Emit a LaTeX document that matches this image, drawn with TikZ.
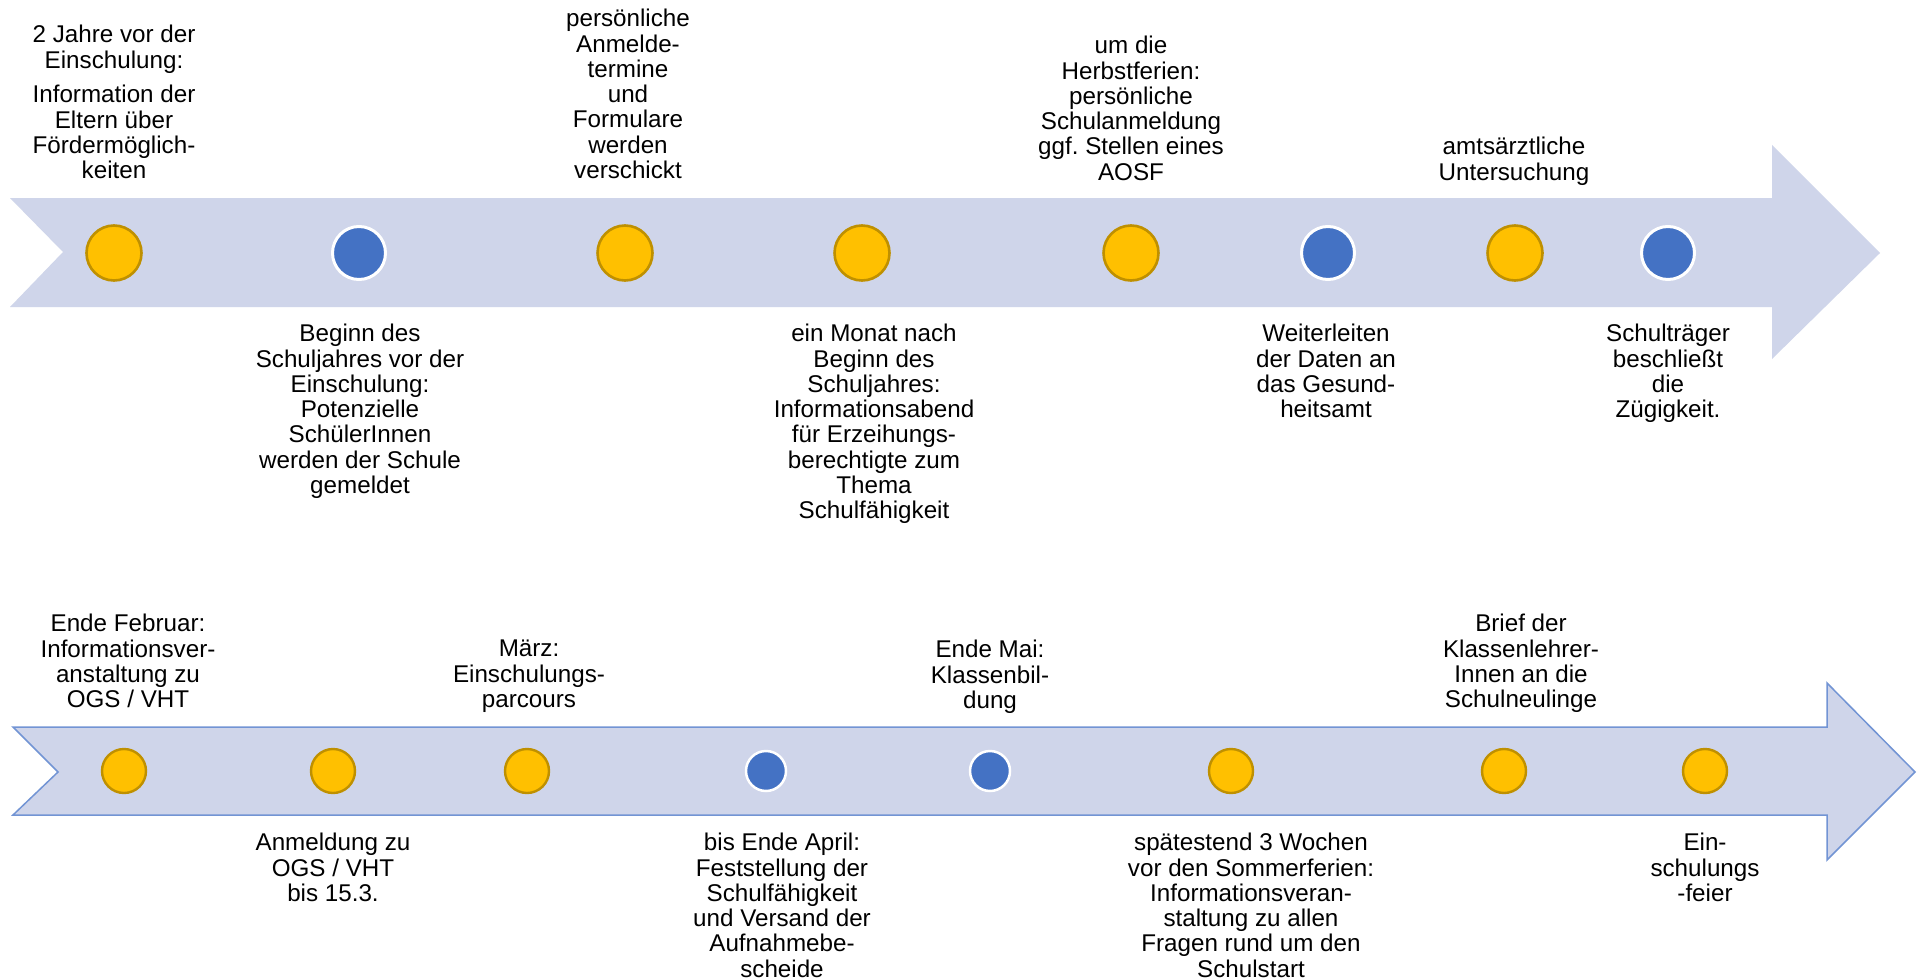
\documentclass[tikz,border=0pt]{standalone}
\usepackage{fontspec}
\setmainfont{Liberation Sans}
\frenchspacing
\definecolor{band}{RGB}{207,213,234}
\definecolor{bandline}{RGB}{114,148,212}
\definecolor{gold}{RGB}{255,192,0}
\definecolor{goldline}{RGB}{191,144,0}
\definecolor{accent}{RGB}{68,114,196}
\begin{document}
\begin{tikzpicture}[x=1pt,y=-1pt,
  yellowbig/.style={circle, inner sep=0pt, minimum size=55pt, fill=gold, draw=goldline, line width=2.6pt},
  bluebig/.style={circle, inner sep=0pt, minimum size=53pt, fill=accent, draw=white, line width=3pt},
  yellowsmall/.style={circle, inner sep=0pt, minimum size=44pt, fill=gold, draw=goldline, line width=2.4pt},
  bluesmall/.style={circle, inner sep=0pt, minimum size=40pt, fill=accent, draw=white, line width=2.5pt},
  caption/.style={align=center, inner sep=0pt, anchor=north, text=black,
    font=\fontsize{24.2}{25.3}\selectfont}]
\useasboundingbox (0,0) rectangle (1919,979);
\fill[white] (0,0) rectangle (1919,979);

% upper timeline band
\fill[band] (10,198) -- (1772,198) -- (1772,145) -- (1880,253) -- (1772,359)
  -- (1772,307) -- (10,307) -- (63,252) -- cycle;

% lower timeline band
\filldraw[fill=band, draw=bandline, line width=1.5pt, line join=miter]
  (13,727) -- (1827,727) -- (1827,683) -- (1915,772) -- (1827,860)
  -- (1827,815) -- (13,815) -- (58,772) -- cycle;

% upper milestones
\node[yellowbig] (t1) at (114,253) {};
\node[bluebig]   (t2) at (359,253) {};
\node[yellowbig] (t3) at (625,253) {};
\node[yellowbig] (t4) at (862,253) {};
\node[yellowbig] (t5) at (1131,253) {};
\node[bluebig]   (t6) at (1328,253) {};
\node[yellowbig] (t7) at (1515,253) {};
\node[bluebig]   (t8) at (1668,253) {};

% lower milestones
\node[yellowsmall] (b1) at (124,771) {};
\node[yellowsmall] (b2) at (333,771) {};
\node[yellowsmall] (b3) at (527,771) {};
\node[bluesmall]   (b4) at (766,771) {};
\node[bluesmall]   (b5) at (990,771) {};
\node[yellowsmall] (b6) at (1231,771) {};
\node[yellowsmall] (b7) at (1504,771) {};
\node[yellowsmall] (b8) at (1705,771) {};

% upper captions
\node[caption] (lt1) at (114,25) {2 Jahre vor der\\Einschulung:\\[9.5pt]Information der\\Eltern über\\Fördermöglich-\\keiten};
\node[caption] (lt2) at (360,324) {Beginn des\\Schuljahres vor der\\Einschulung:\\Potenzielle\\SchülerInnen\\werden der Schule\\gemeldet};
\node[caption] (lt3) at (628,9) {persönliche\\Anmelde-\\termine\\und\\Formulare\\werden\\verschickt};
\node[caption] (lt4) at (874,324) {ein Monat nach\\Beginn des\\Schuljahres:\\Informationsabend\\für Erzeihungs-\\berechtigte zum\\Thema\\Schulfähigkeit};
\node[caption] (lt5) at (1131,36) {um die\\Herbstferien:\\persönliche\\Schulanmeldung\\ggf. Stellen eines\\AOSF};
\node[caption] (lt6) at (1326,324) {Weiterleiten\\der Daten an\\das Gesund-\\heitsamt};
\node[caption] (lt7) at (1514,137) {amtsärztliche\\Untersuchung};
\node[caption] (lt8) at (1668,324) {Schulträger\\beschließt\\die\\Zügigkeit.};

% lower captions
\node[caption] (lb1) at (128,614) {Ende Februar:\\Informationsver-\\anstaltung zu\\OGS / VHT};
\node[caption] (lb2) at (333,833) {Anmeldung zu\\OGS / VHT\\bis 15.3.};
\node[caption] (lb3) at (529,640) {März:\\Einschulungs-\\parcours};
\node[caption] (lb4) at (782,833) {bis Ende April:\\Feststellung der\\Schulfähigkeit\\und Versand der\\Aufnahmebe-\\scheide};
\node[caption] (lb5) at (990,640) {Ende Mai:\\Klassenbil-\\dung};
\node[caption] (lb6) at (1251,833) {spätestend 3 Wochen\\vor den Sommerferien:\\Informationsveran-\\staltung zu allen\\Fragen rund um den\\Schulstart};
\node[caption] (lb7) at (1521,614) {Brief der\\Klassenlehrer-\\Innen an die\\Schulneulinge};
\node[caption] (lb8) at (1705,833) {Ein-\\schulungs\\-feier};
\end{tikzpicture}
\end{document}
